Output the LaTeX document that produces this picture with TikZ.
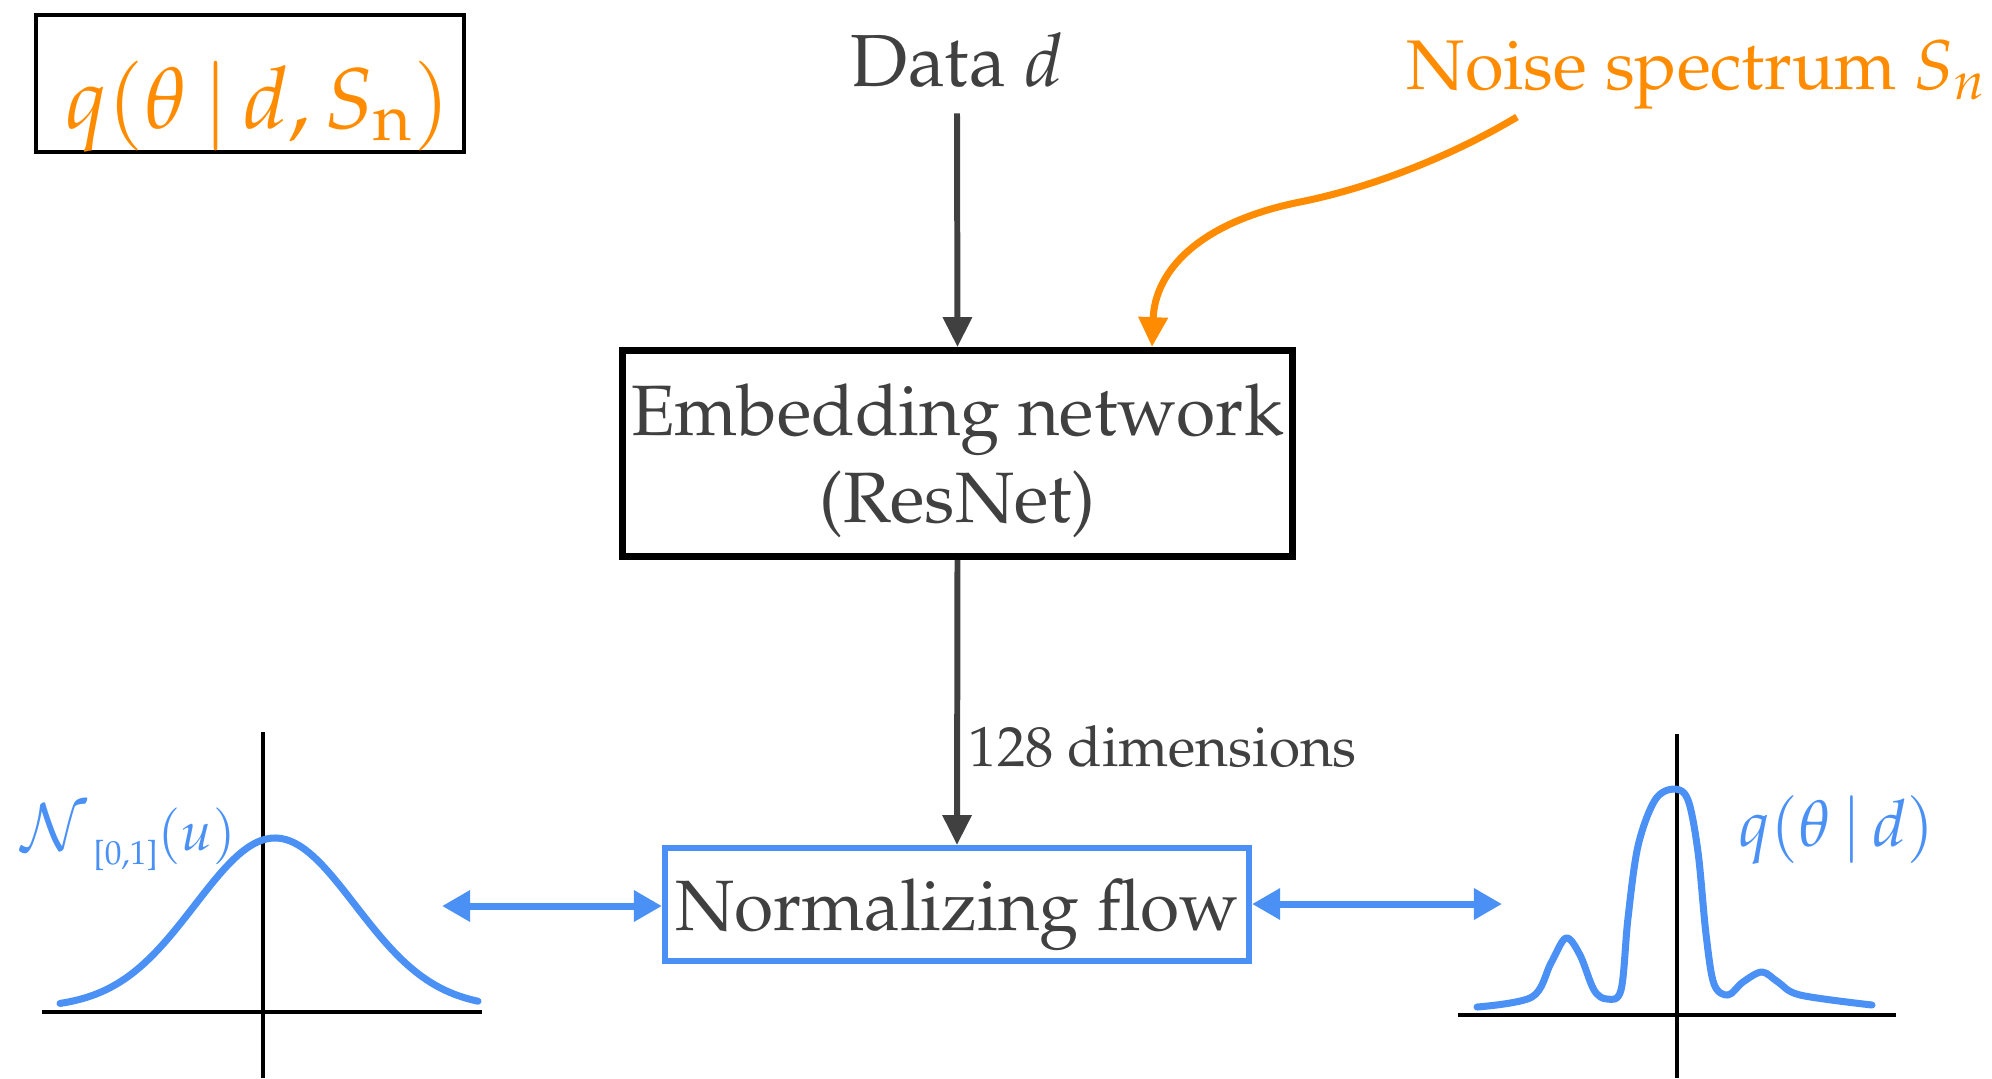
\documentclass[tikz,border=0pt]{standalone}
\usepackage[T1]{fontenc}
\usepackage{mathpazo}
\usetikzlibrary{arrows.meta}

\definecolor{ink}{RGB}{64,64,64}
\definecolor{sorange}{RGB}{255,140,0}
\definecolor{fblue}{RGB}{74,144,245}

\begin{document}
\begin{tikzpicture}[x=0.28453pt, y=-0.28453pt,
  lbl/.style={inner sep=0pt, text=ink, font=\fontsize{20.3}{24.75}\selectfont},
  small/.style={inner sep=0pt, text=ink, font=\fontsize{16.1}{19}\selectfont},
  darrow/.style={draw=ink, line width=1.7pt, -{Triangle[length=8.5pt,width=8pt]}},
  oarrow/.style={draw=sorange, line width=2pt, -{Triangle[length=8.5pt,width=8pt]}},
  barrow/.style={draw=fblue, line width=2pt,
    {Triangle[length=8pt,width=8.5pt]}-{Triangle[length=8pt,width=8.5pt]}},
  axisline/.style={draw=black, line width=0.9pt},
  density/.style={draw=fblue, line width=2pt, line join=round, line cap=round},
  netbox/.style={draw=black, line width=2pt, inner sep=0pt, text=ink,
    font=\fontsize{20.3}{24.75}\selectfont, align=center, text depth=0pt},
  flowbox/.style={draw=fblue, line width=1.7pt, inner sep=0pt, text=ink,
    font=\fontsize{20.3}{24.75}\selectfont, text depth=0pt}]

\useasboundingbox (0,0) rectangle (1992,1078);

% posterior title box
\node[draw=black, line width=1pt, minimum width=121.8pt, minimum height=39pt,
  inner sep=0pt] (qbox) at (250,83.5) {};
\node[inner sep=0pt, text=sorange, anchor=base, font=\fontsize{24.5}{28}\selectfont]
  (qtext) at (258,128) {$q(\theta\,|\,d, S_{\mathrm{n}})$};

% inputs
\node[lbl, anchor=base, font=\fontsize{21}{24}\selectfont] (data) at (957,86) {Data $d$};
\node[lbl, anchor=base west, text=sorange, font=\fontsize{20}{24}\selectfont]
  (noise) at (1406,89) {Noise spectrum $S_n$};

% network blocks
\node[netbox, minimum width=190.6pt, minimum height=58.6pt] (embed) at (957.5,453.5)
  {Embedding network\\(ResNet)};
\node[flowbox, minimum width=166.2pt, minimum height=32.2pt] (flow) at (957,904.5)
  {Normalizing flow};
\node[small, anchor=base west] (dims) at (968,766) {128 dimensions};

% connectors
\draw[darrow] ([yshift=-7.4pt]data.south) -- (embed.north);
\draw[darrow] (embed.south) -- (flow.north);

\coordinate (nstart) at (1517,117);
\coordinate (ntx) at (1152,0);
\draw[oarrow] (nstart) .. controls (1450,157) and (1370,188) .. (1300,202)
  .. controls (1200,222) and (1155,270) .. (embed.north -| ntx);

\coordinate (lend) at (442,906);
\coordinate (rend) at (1502,904);
\draw[barrow] (lend) -- (lend -| flow.west);
\draw[barrow] (flow.east |- rend) -- (rend);

% base distribution
\draw[axisline] (42,1012) -- (482,1012);
\draw[axisline] (263,732) -- (263,1078);
\draw[density] plot[domain=60:478, samples=90]
  (\x, {1008 - 170*exp(-0.5*((\x-275)/80)^2)});
\node[inner sep=0pt, anchor=base west, text=fblue]
  (nlabel) at (20,850)
  {{\fontsize{18.5}{20}\selectfont$\mathcal{N}$}\,\raisebox{-4pt}{\fontsize{9.5}{10}\selectfont[0,1]}{\fontsize{15.5}{18}\selectfont$(u)$}};

% posterior distribution
\draw[axisline] (1458,1015) -- (1896,1015);
\draw[axisline] (1677,734) -- (1677,1078);
\draw[density] plot[smooth, tension=0.55] coordinates {
  (1477,1007) (1532,997) (1551,963) (1566,938) (1580,955) (1594,990)
  (1607,999) (1621,990) (1628,918) (1638,846) (1655,800) (1674,789)
  (1688,800) (1698,852) (1706,934) (1714,984) (1728,995) (1743,982)
  (1762,972) (1778,982) (1800,995) (1872,1005)};
\node[inner sep=0pt, anchor=base west, text=fblue, font=\fontsize{18.5}{22}\selectfont]
  (qlabel) at (1738,846) {$q(\theta\,|\,d)$};

\end{tikzpicture}
\end{document}
